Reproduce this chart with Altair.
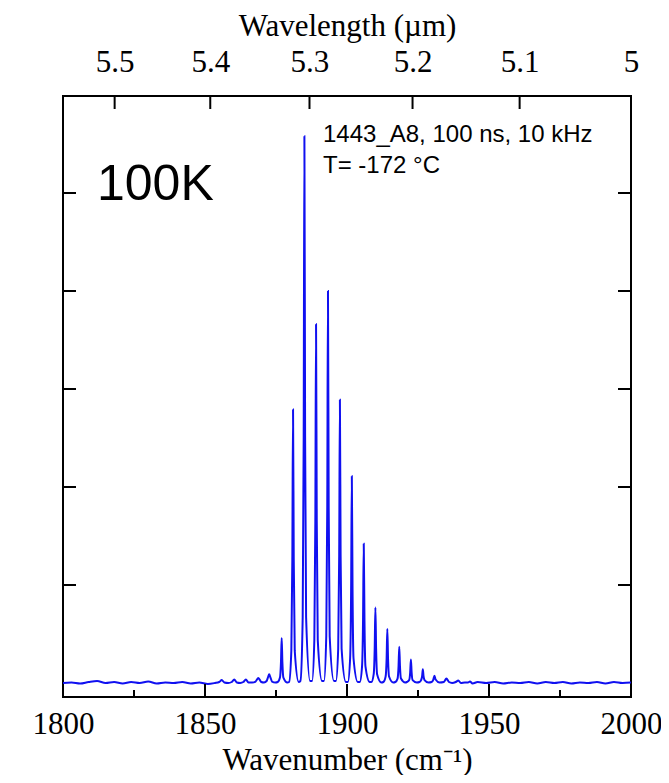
import altair as alt
import pandas as pd

# Spectrum (wavenumber in cm^-1, intensity in arbitrary units)
wavenumber = [
    1800, 1803, 1806, 1809, 1812, 1815, 1818, 1821, 1824, 1827, 1830, 1833, 1836, 1839, 1842, 1845, 1848, 1851, 1853.5,
    1855.0, 1855.9, 1856.8, 1858.2,
    1859.4, 1860.3, 1861.2, 1862.4,
    1863.5, 1864.4, 1865.3, 1866.6,
    1867.8, 1868.8, 1869.8, 1870.8,
    1871.7, 1872.2, 1872.6, 1873.0, 1873.6, 1874.8,
    1875.6, 1876.4, 1876.75, 1877.0, 1877.25, 1877.6, 1879.0,
    1879.6, 1880.4, 1880.75, 1881.0, 1881.25, 1881.6, 1883.0,
    1883.6, 1884.4, 1884.75, 1885.0, 1885.25, 1885.6, 1887.0,
    1887.7, 1888.5, 1888.85, 1889.1, 1889.35, 1889.7, 1891.2,
    1891.9, 1892.7, 1893.05, 1893.3, 1893.55, 1893.9, 1895.4,
    1896.1, 1896.9, 1897.25, 1897.5, 1897.75, 1898.1, 1899.6,
    1900.3, 1901.1, 1901.45, 1901.7, 1901.95, 1902.3, 1903.8,
    1904.5, 1905.3, 1905.65, 1905.9, 1906.15, 1906.5, 1908.0,
    1908.6, 1909.4, 1909.75, 1910.0, 1910.25, 1910.6, 1912.1,
    1912.8, 1913.6, 1913.95, 1914.2, 1914.45, 1914.8, 1916.3,
    1917.0, 1917.8, 1918.15, 1918.4, 1918.65, 1919.0, 1920.5,
    1921.1, 1921.9, 1922.25, 1922.5, 1922.75, 1923.1, 1924.6,
    1925.5, 1926.1, 1926.45, 1926.7, 1926.95, 1927.3, 1928.7,
    1929.8, 1930.4, 1930.8, 1931.2, 1932.6,
    1934.1, 1935.0, 1935.9, 1937.0,
    1938.3, 1939.2, 1940.1, 1941.5,
    1942.6, 1943.3, 1944.2,
    1946, 1949, 1952, 1955, 1958, 1961, 1964, 1967, 1970, 1973, 1976, 1979, 1982, 1985, 1988, 1991, 1994, 1997, 2000,
]
intensity = [
    0.0, 0.005, -0.005, 0.01, 0.02, 0.0, 0.01, -0.005, 0.01, 0.0, 0.015, -0.005, 0.005, 0.0, 0.01, -0.005, 0.005, -0.01, 0.0,
    0.01, 0.03, 0.005, 0.0,
    0.01, 0.035, 0.005, 0.0,
    0.01, 0.035, 0.005, 0.005,
    0.015, 0.05, 0.01, 0.005,
    0.02, 0.06, 0.09, 0.06, 0.015, 0.005,
    0.01, 0.055, 0.21, 0.46, 0.21, 0.055, 0.005,
    0.01, 0.33, 1.26, 2.79, 1.26, 0.33, 0.01,
    0.02, 0.67, 2.51, 5.58, 2.51, 0.67, 0.02,
    0.02, 0.44, 1.65, 3.66, 1.65, 0.44, 0.02,
    0.02, 0.48, 1.80, 4.00, 1.80, 0.48, 0.02,
    0.02, 0.35, 1.30, 2.89, 1.30, 0.35, 0.01,
    0.01, 0.25, 0.95, 2.11, 0.95, 0.25, 0.01,
    0.01, 0.17, 0.64, 1.42, 0.64, 0.17, 0.01,
    0.01, 0.09, 0.35, 0.77, 0.35, 0.09, 0.005,
    0.01, 0.066, 0.25, 0.55, 0.25, 0.066, 0.005,
    0.01, 0.045, 0.17, 0.37, 0.17, 0.045, 0.005,
    0.01, 0.03, 0.11, 0.24, 0.11, 0.03, 0.005,
    0.01, 0.03, 0.07, 0.14, 0.07, 0.03, 0.005,
    0.01, 0.035, 0.075, 0.035, 0.005,
    0.01, 0.045, 0.01, 0.0,
    0.01, 0.025, 0.0, 0.005,
    0.005, 0.015, -0.005,
    0.01, 0.0, 0.01, -0.005, 0.005, 0.0, 0.01, -0.005, 0.01, 0.0, 0.01, -0.005, 0.005, 0.0, 0.01, -0.005, 0.01, 0.0, 0.005,
]

bottom_major = [1850, 1900, 1950]
bottom_minor = [1825, 1875, 1925, 1975]
bottom_labels = [1800, 1850, 1900, 1950, 2000]
wavelength_ticks = [5.5, 5.4, 5.3, 5.2, 5.1, 5.0]
y_ticks = [1, 2, 3, 4, 5]

W, H = 568, 601
BLUE = "#1010f0"
SERIF = "Liberation Serif"
SANS = "Liberation Sans"

xscale = alt.Scale(domain=[1800, 2000], nice=False, zero=False)
yscale = alt.Scale(domain=[-0.143, 5.99], nice=False, zero=False)

spec = pd.DataFrame({"wn": wavenumber, "I": intensity})

line = alt.Chart(spec).mark_line(color=BLUE, strokeWidth=2, interpolate="monotone", clip=True).encode(
    x=alt.X("wn:Q", scale=xscale,
            axis=alt.Axis(orient="bottom", values=bottom_labels, format="d", ticks=False, domain=False,
                          grid=False, labelFont=SERIF, labelFontSize=31, labelColor="black",
                          labelPadding=12, labelFlush=False, labelOverlap=False,
                          title="Wavenumber (cm⁻¹)", titleFont=SERIF, titleFontSize=31,
                          titleFontWeight="normal", titleColor="black", titlePadding=6)),
    y=alt.Y("I:Q", scale=yscale,
            axis=alt.Axis(labels=False, ticks=False, domain=False, grid=False,
                          title="Emission intensity (au)", titleFont=SERIF, titleFontSize=31,
                          titleFontWeight="normal", titleColor="black", titlePadding=14)),
)

wl_pos = [10000.0 / w for w in wavelength_ticks]
top_df = pd.DataFrame({"wn": wl_pos})
top_axis_layer = alt.Chart(top_df).mark_rule(color="black", strokeWidth=2).encode(
    x=alt.X("wn:Q", scale=xscale,
            axis=alt.Axis(orient="top", values=wl_pos, labelExpr="format(10000/datum.value, '.2~g')",
                          ticks=False, domain=False, grid=False, labelFont=SERIF, labelFontSize=31,
                          labelColor="black", labelPadding=18, labelFlush=False, labelOverlap=False,
                          title="Wavelength (µm)", titleFont=SERIF, titleFontSize=31,
                          titleFontWeight="normal", titleColor="black", titlePadding=4)),
    y=alt.value(0), y2=alt.value(13),
)

major_df = pd.DataFrame({"wn": bottom_major})
minor_df = pd.DataFrame({"wn": bottom_minor})
ytick_df = pd.DataFrame({"v": y_ticks})

bmaj = alt.Chart(major_df).mark_rule(color="black", strokeWidth=2).encode(
    x=alt.X("wn:Q", scale=xscale, axis=None), y=alt.value(H), y2=alt.value(H - 13))
bmin = alt.Chart(minor_df).mark_rule(color="black", strokeWidth=2).encode(
    x=alt.X("wn:Q", scale=xscale, axis=None), y=alt.value(H), y2=alt.value(H - 7))
lt = alt.Chart(ytick_df).mark_rule(color="black", strokeWidth=2).encode(
    y=alt.Y("v:Q", scale=yscale, axis=None), x=alt.value(0), x2=alt.value(13))
rt = alt.Chart(ytick_df).mark_rule(color="black", strokeWidth=2).encode(
    y=alt.Y("v:Q", scale=yscale, axis=None), x=alt.value(W), x2=alt.value(W - 13))

label_100k = alt.Chart(pd.DataFrame({"t": ["100K"]})).mark_text(
    font=SANS, fontSize=50, align="left", baseline="alphabetic", color="black").encode(
    text="t:N", x=alt.value(34), y=alt.value(104))
ann = alt.Chart(pd.DataFrame({"t": ["1443_A8, 100 ns, 10 kHz", "T= -172 °C"], "yy": [46, 77]})).mark_text(
    font=SANS, fontSize=24, align="left", baseline="alphabetic", color="black").encode(
    text="t:N", x=alt.value(260), y=alt.Y("yy:Q", scale=None))

chart = alt.layer(line, top_axis_layer, bmaj, bmin, lt, rt, label_100k, ann).resolve_axis(
    x="independent"
).properties(
    width=W, height=H,
    padding={"left": 55, "top": 88, "right": 30, "bottom": 78},
    autosize=alt.AutoSizeParams(type="none"),
    background="white",
).configure_view(stroke="black", strokeWidth=2)

chart.save("out.html", embed_options={"renderer": "svg", "actions": False})
